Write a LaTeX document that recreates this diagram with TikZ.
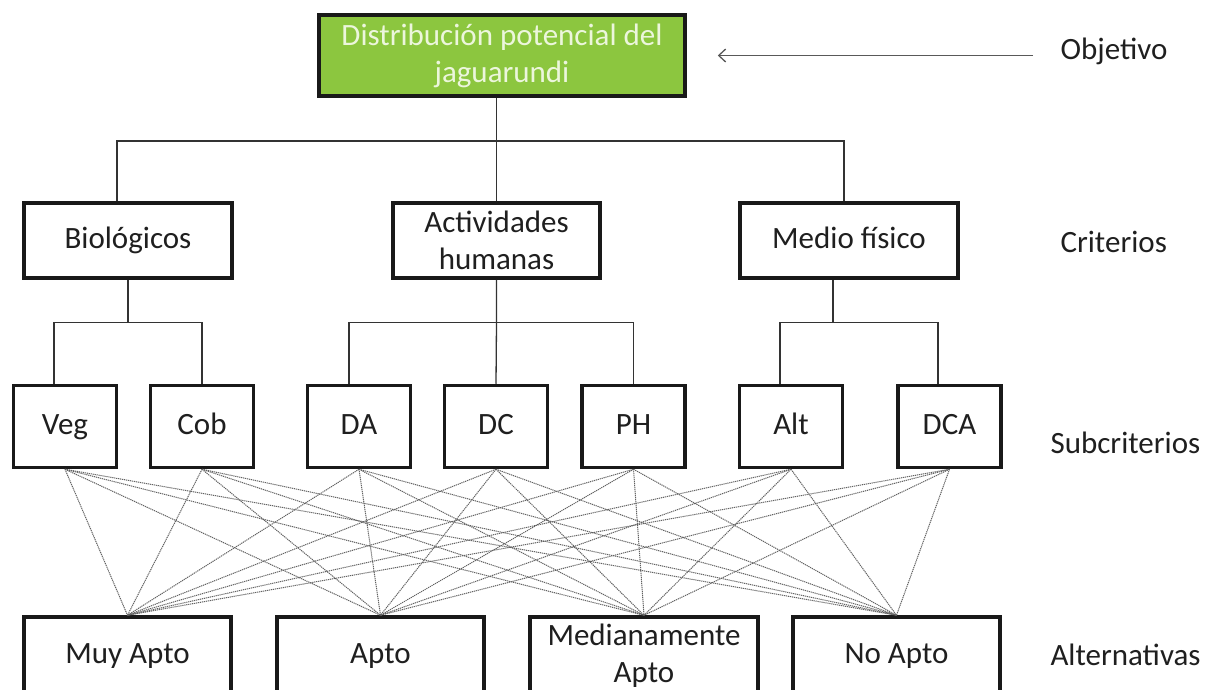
\documentclass[tikz,border=0pt]{standalone}
\usepackage{fontspec}
\setmainfont{Carlito}
\usetikzlibrary{arrows.meta}
\definecolor{goalgreen}{RGB}{140,198,63}
\definecolor{goaltext}{RGB}{236,246,220}

\begin{document}
\begin{tikzpicture}[x=1pt,y=-1pt,font=\fontsize{31}{37}\selectfont,
  box/.style={draw=black!90,line width=3.5pt,fill=white,text=black!88,align=center,inner sep=0pt,minimum height=75pt},
  oneline/.style={text height=22pt,text depth=7pt},
  subbox/.style={box,oneline,minimum width=103pt,minimum height=82pt},
  altbox/.style={box,minimum width=207pt,minimum height=78pt},
  link/.style={draw=black!80,line width=1.3pt},
  cross/.style={draw=black!62,line width=1pt,dash pattern=on 1.2pt off 0.8pt},
  pointer/.style={draw=black!65,line width=1.3pt,-{Straight Barb[length=7pt,width=13pt]}},
  level/.style={anchor=west,text=black!88}]
      \useasboundingbox (0,0) rectangle (1207,690);
      \clip (0,0) rectangle (1207,690);
      \node[box,fill=goalgreen,text=goaltext,minimum width=366pt,minimum height=81pt] (goal) at (502,55.5) {Distribución potencial del\\jaguarundi};
      \node[box,oneline,minimum width=208pt] (bio) at (128,240.5) {Biológicos}; \node[box,minimum width=207pt] (act) at (496.5,240.5) {Actividades\\humanas}; \node[box,oneline,minimum width=218pt] (med) at (849,240.5) {Medio físico};
      \node[subbox] (veg) at (65,426.5) {Veg}; \node[subbox] (cob) at (202,426.5) {Cob}; \node[subbox] (da) at (359,426.5) {DA}; \node[subbox] (dc) at (496,426.5) {DC}; \node[subbox] (ph) at (633.5,426.5) {PH}; \node[subbox] (alt) at (791,426.5) {Alt}; \node[subbox] (dca) at (949.5,426.5) {DCA};
      \node[altbox,oneline] (muy) at (127.5,656) {Muy Apto}; \node[altbox,oneline] (apto) at (380.5,656) {Apto}; \node[altbox,minimum width=228pt] (medi) at (644,656) {Medianamente\\Apto}; \node[altbox,oneline] (noapto) at (896.5,656) {No Apto};
      \node[level] (lobj) at (1057,51) {Objetivo}; \node[level] (lcrit) at (1057,242) {Criterios}; \node[level] (lsub) at (1047,443) {Subcriterios}; \node[level] (lalt) at (1047,655) {Alternativas};

      \draw[pointer] ([xshift=-24pt]goal.east -| lobj.west) -- ([xshift=31pt]goal.east);
      \draw[link] (goal.south -| act.north) -- (act.north);
      \coordinate (top) at (496,141);
      \draw[link] ([xshift=-11pt]bio.north) |- (top) -| ([xshift=-5pt]med.north);
      \draw[link] (bio.south) -- ++(0,43) coordinate (jb); \draw[link] ([xshift=-11pt]veg.north) |- (jb) -| (cob.north);
      \draw[link] (act.south) -- ++(0,43) coordinate (ja) -- (dc.north); \draw[link] ([xshift=-10pt]da.north) |- (ja) -| (ph.north);
      \draw[link] ([xshift=-16pt]med.south) -- ++(0,43) coordinate (jm); \draw[link] ([xshift=-11pt]alt.north) |- (jm) -| ([xshift=-11.5pt]dca.north);
      \foreach \s in {veg,cob,da,dc,ph,alt,dca}
        \foreach \a in {muy,apto,medi,noapto}
          \draw[cross] (\s.south) -- (\a.north);
    \end{tikzpicture}
\end{document}
